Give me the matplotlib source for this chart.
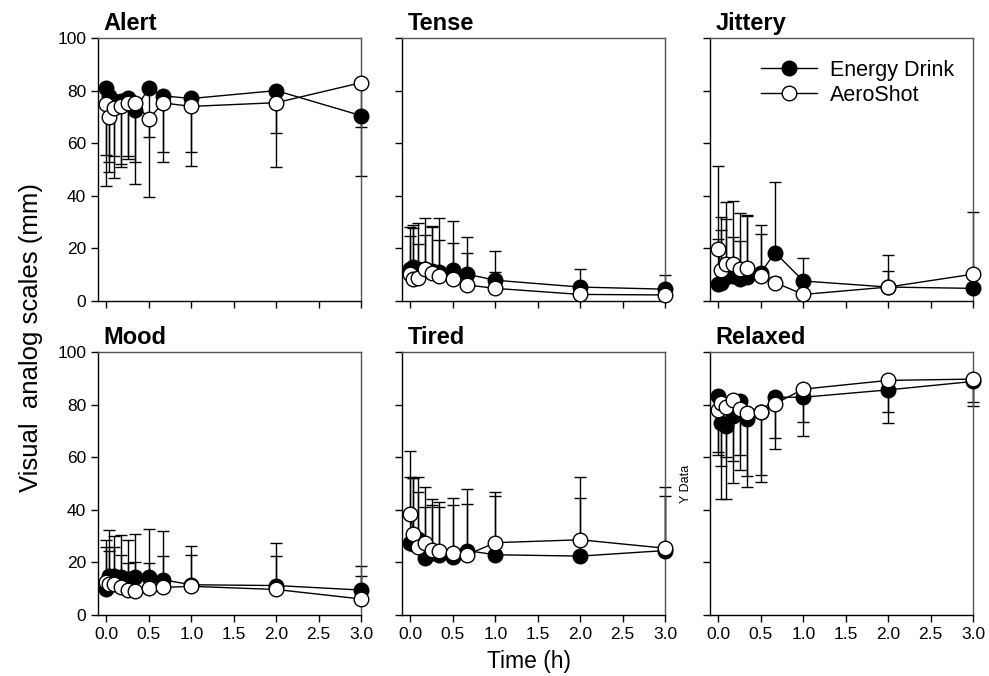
import numpy as np
import matplotlib.pyplot as plt

plt.rcParams['font.family'] = ['Liberation Sans', 'DejaVu Sans']

# sampling times (h)
time_h = [0, 0.033, 0.083, 0.167, 0.25, 0.333, 0.5, 0.667, 1, 2, 3]

titles = ['Alert', 'Tense', 'Jittery', 'Mood', 'Tired', 'Relaxed']

# Energy Drink means / SD
energy_mean = {
    'Alert':   [81, 78, 76, 76, 77, 72.5, 81, 78, 77, 80, 70.5],
    'Tense':   [12, 13, 12, 12, 11.5, 11, 11.7, 10.2, 7.9, 5.3, 4.5],
    'Jittery': [6.4, 7, 9, 9.5, 8.3, 9, 10.8, 18.4, 7.6, 5.3, 4.8],
    'Mood':    [9.9, 15, 15, 14.4, 13.7, 14.4, 14.4, 13.4, 11.5, 11.2, 9.5],
    'Tired':   [27.3, 27, 29, 21.6, 23.4, 22.9, 22, 24.5, 22.9, 22.4, 24.5],
    'Relaxed': [83.3, 72.9, 71.9, 75.5, 81.2, 74.5, 77, 82.8, 82.8, 85.6, 88.8],
}
energy_sd = {
    'Alert':   [37.4, 29, 29.2, 25.1, 22.9, 28.2, 41.6, 25, 25.5, 29.1, 4.3],
    'Tense':   [16, 16, 17.5, 19.4, 17.1, 20.7, 18.7, 14.3, 11.2, 6.7, 5.4],
    'Jittery': [17.1, 20, 22, 14.9, 14.6, 23.7, 14.6, 26.8, 8.9, 6.2, 1.5],
    'Mood':    [15.9, 17.2, 15, 15.9, 14.9, 16.5, 18.2, 18.4, 14.9, 16.3, 9],
    'Tired':   [25.2, 25, 17.6, 19.4, 18.6, 18.1, 20, 23.5, 22.3, 21.9, 24],
    'Relaxed': [22.3, 28.8, 27.9, 25.3, 26.2, 25.8, 26.4, 19.8, 14.9, 12.7, 9.2],
}

# AeroShot means / SD
aero_mean = {
    'Alert':   [75, 70, 73.5, 74, 75.4, 75.3, 69.3, 75.3, 74, 75.4, 83],
    'Tense':   [10.2, 8.3, 8.7, 12.1, 10.8, 9.5, 8.3, 6.1, 4.8, 2.5, 2.3],
    'Jittery': [19.7, 11.7, 14, 14, 12.1, 12.7, 9.5, 7, 2.5, 5.3, 10.2],
    'Mood':    [12.4, 11.8, 11.8, 10.7, 9.6, 9, 10.1, 10.5, 10.9, 9.7, 6.1],
    'Tired':   [38.5, 30.9, 25.8, 27.5, 24.8, 24.3, 23.4, 22.9, 27.5, 28.6, 25.4],
    'Relaxed': [78, 80.5, 79, 81.8, 78.3, 76.7, 77, 80.3, 85.9, 89.2, 89.7],
}
aero_sd = {
    'Alert':   [19.3, 17.2, 18.5, 21.8, 20.1, 22.5, 7, 18.8, 17.4, 11.5, 35.5],
    'Tense':   [14.5, 19.3, 12.9, 12.9, 17.2, 13.8, 13.7, 12.1, 6.2, 1.5, 0.7],
    'Jittery': [31.6, 20.3, 23.5, 24.2, 21.4, 19.8, 19.4, 2, 0.5, 12.3, 23.8],
    'Mood':    [16.2, 12.5, 14.2, 12.1, 10.1, 11, 9.7, 11.9, 12.1, 12.7, 8.6],
    'Tired':   [24, 21.1, 26.6, 21, 19.2, 18.6, 20.9, 19.2, 19.3, 23.7, 19.9],
    'Relaxed': [15.9, 23.8, 19, 23.4, 17.3, 23.9, 23.8, 13.1, 12.7, 12.2, 8.8],
}

# error bars drawn downward for these scales, upward for the rest
down_bars = ['Alert', 'Relaxed']

fig = plt.figure(figsize=(9.89, 6.76), dpi=100)

W, H = 989, 676
lefts = [98, 402, 710]
tops = [38, 352]
size = 263

for i, name in enumerate(titles):
    row, col = divmod(i, 3)
    l = lefts[col] / W
    b = (H - tops[row] - size) / H
    ax = fig.add_axes([l, b, size / W, size / H])

    for mean, sd, face, lab in [(energy_mean[name], energy_sd[name], 'black', 'Energy Drink'),
                                (aero_mean[name], aero_sd[name], 'white', 'AeroShot')]:
        sd = np.array(sd)
        if name in down_bars:
            yerr = [sd, np.zeros_like(sd)]
        else:
            yerr = [np.zeros_like(sd), sd]
        ax.errorbar(time_h, mean, yerr=yerr, fmt='none', ecolor='black',
                    elinewidth=1, capsize=4.5, capthick=1, clip_on=False, zorder=2)
        ax.plot(time_h, mean, '-o', color='black', lw=1, markersize=10.5,
                markerfacecolor=face, markeredgecolor='black', markeredgewidth=1,
                label=lab, clip_on=False, zorder=3)

    ax.set_xlim(-0.1, 3.0)
    ax.set_ylim(0, 100)
    ax.set_xticks(np.arange(0, 3.01, 0.5))
    ax.set_yticks(np.arange(0, 101, 20))
    ax.tick_params(direction='out', length=5, width=1, labelsize=12.5, color='black')
    if row == 0:
        ax.tick_params(labelbottom=False)
    else:
        ax.set_xticklabels(['%.1f' % v for v in np.arange(0, 3.01, 0.5)])
    if col > 0:
        ax.tick_params(labelleft=False)
    for s in ax.spines.values():
        s.set_linewidth(1)
        s.set_color('#555555')
    ax.spines['left'].set_color('black')
    ax.spines['bottom'].set_color('black')

    ax.text(0.02, 1.012, name, transform=ax.transAxes, fontsize=17,
            fontweight='bold', ha='left', va='bottom')

    if name == 'Jittery':
        ax.legend(loc='upper right', frameon=False, fontsize=15.5,
                  handlelength=2.6, borderaxespad=0.6, handletextpad=0.6,
                  labelspacing=0.2, bbox_to_anchor=(1.01, 1.0))
    if name == 'Tired':
        ax.text(1.08, 0.5, 'Y Data', transform=ax.transAxes, rotation=90,
                fontsize=9, ha='center', va='center')

fig.text(0.031, 0.5, 'Visual  analog scales (mm)', rotation=90, fontsize=18.5,
         ha='center', va='center')
fig.text(0.535, 0.021, 'Time (h)', fontsize=16.5, ha='center', va='center')

fig.savefig('out.png', dpi=100)
